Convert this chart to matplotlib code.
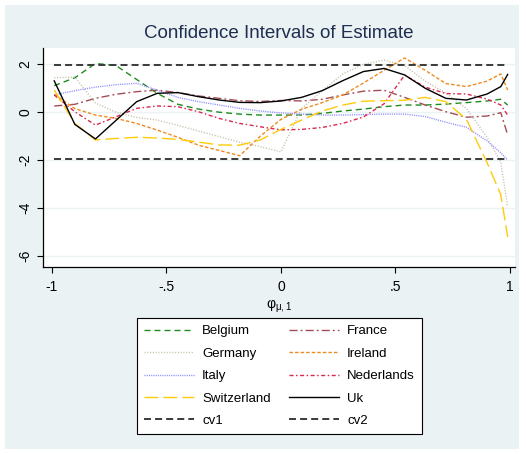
import matplotlib
matplotlib.use("Agg")
import matplotlib.pyplot as plt
from matplotlib.patches import Rectangle

plt.rcParams['font.family'] = ['Liberation Sans', 'DejaVu Sans']

# grid of phi values
phi = [-0.99, -0.90, -0.81, -0.72, -0.63, -0.54, -0.45, -0.36, -0.27, -0.18, -0.09, 0.00,
       0.09, 0.18, 0.27, 0.36, 0.45, 0.54, 0.63, 0.72, 0.81, 0.90, 0.96, 0.99]

belgium = [1.11, 1.44, 2.04, 1.95, 1.37, 0.79, 0.33, 0.13, 0.00, -0.08, -0.12, -0.12,
           -0.12, -0.05, 0.05, 0.13, 0.23, 0.30, 0.30, 0.34, 0.40, 0.47, 0.54, 0.30]
france = [0.26, 0.33, 0.58, 0.75, 0.86, 0.92, 0.82, 0.68, 0.58, 0.48, 0.45, 0.49,
          0.47, 0.54, 0.72, 0.88, 0.92, 0.62, 0.30, 0.02, -0.21, -0.16, -0.02, -0.95]
germany = [1.44, 1.47, 0.38, 0.00, -0.22, -0.33, -0.55, -0.79, -1.02, -1.26, -1.44, -1.66,
           0.15, 0.90, 1.60, 2.00, 2.18, 1.95, 1.30, 0.80, 0.15, -1.05, -2.10, -3.95]
ireland = [0.75, 0.15, -0.12, -0.26, -0.47, -0.75, -1.05, -1.38, -1.60, -1.82, -1.00, -0.30,
           0.12, 0.40, 0.72, 1.22, 1.75, 2.27, 1.75, 1.20, 1.07, 1.30, 1.60, 0.93]
italy = [0.72, 0.90, 1.05, 1.15, 1.21, 0.92, 0.62, 0.44, 0.30, 0.16, 0.05, -0.03,
         -0.08, -0.12, -0.12, -0.10, -0.08, -0.08, -0.18, -0.42, -0.63, -1.20, -1.70, -2.00]
nederlands = [0.72, 0.02, -0.54, -0.19, 0.16, 0.26, 0.23, 0.02, -0.26, -0.47, -0.61, -0.74,
              -0.72, -0.64, -0.47, -0.20, 0.35, 1.55, 1.05, 0.78, 0.76, 0.55, 0.30, -0.12]
switzerland = [0.93, -0.47, -1.16, -1.10, -1.05, -1.08, -1.14, -1.25, -1.37, -1.38, -1.16, -0.72,
               -0.33, 0.05, 0.30, 0.46, 0.48, 0.50, 0.62, 0.44, -0.30, -2.11, -3.45, -5.22]
uk = [1.31, -0.51, -1.12, -0.34, 0.44, 0.79, 0.82, 0.65, 0.51, 0.41, 0.40, 0.47,
      0.62, 0.90, 1.32, 1.70, 1.83, 1.56, 1.00, 0.58, 0.51, 0.76, 1.07, 1.58]
cv1 = 1.96
cv2 = -1.96

xticks = [-1, -0.5, 0, 0.5, 1]
xtick_labels = ['-1', '-.5', '0', '.5', '1']
yticks = [-6, -4, -2, 0, 2]

W, H = 526, 454
fig = plt.figure(figsize=(W / 100, H / 100), dpi=100, facecolor='white')
fig.patches.append(Rectangle((5 / W, 5 / H), 514 / W, 444 / H, transform=fig.transFigure,
                             facecolor='#eaf2f3', edgecolor='none', zorder=-10))

ax = fig.add_axes([43 / W, 1 - 267 / H, (515 - 43) / W, (267 - 48) / H])
ax.set_facecolor('white')

ax.plot(phi, belgium, color='#1e8c1e', lw=1.0, ls=(0, (4.3, 2.9)), label='Belgium')
ax.plot(phi, france, color='#a24d55', lw=1.0, ls=(0, (5.8, 2.2, 1.4, 2.2)), label='France')
ax.plot(phi, germany, color='#c3c0a8', lw=1.0, ls=(0, (0.8, 1.2)), label='Germany')
ax.plot(phi, ireland, color='#ef8a1f', lw=1.0, ls=(0, (2.5, 1.5)), label='Ireland')
ax.plot(phi, italy, color='#8f8fff', lw=1.0, ls=(0, (0.8, 0.8)), label='Italy')
ax.plot(phi, nederlands, color='#d9284f', lw=1.0, ls=(0, (2.9, 1.8, 1.1, 1.8)), label='Nederlands')
ax.plot(phi, switzerland, color='#fecb0b', lw=1.0, ls=(0, (10, 3.6)), label='Switzerland')
ax.plot(phi, uk, color='black', lw=1.0, label='Uk')
ax.plot(phi, [cv1] * len(phi), color='#3a3a3a', lw=1.4, ls=(0, (3.6, 2.1)), label='cv1')
ax.plot(phi, [cv2] * len(phi), color='#3a3a3a', lw=1.4, ls=(0, (3.6, 2.1)), label='cv2')

ax.set_xlim(-1.039, 1.022)
ax.set_ylim(-6.477, 2.686)
ax.set_xticks(xticks)
ax.set_xticklabels(xtick_labels)
ax.set_yticks(yticks)
ax.set_yticklabels([str(t) for t in yticks], rotation=90, va='center')
ax.tick_params(axis='both', labelsize=10, length=4.3, width=0.8, color='black')
ax.tick_params(axis='x', pad=5)
ax.tick_params(axis='y', pad=3.5)
ax.yaxis.grid(True, color='#eaf2f3', lw=1.0)
ax.set_axisbelow(True)
for s in ['top', 'right']:
    ax.spines[s].set_visible(False)
for s in ['left', 'bottom']:
    ax.spines[s].set_linewidth(0.9)

ax.set_xlabel(r'φ$_{\mathregular{\mu,1}}$', fontsize=10, labelpad=3)
fig.text(279 / W, 1 - 33 / H, 'Confidence Intervals of Estimate', ha='center', va='center',
         fontsize=13.5, color='#1f2d50')

# legend filled row by row like the original
h, l = ax.get_legend_handles_labels()
order = [0, 2, 4, 6, 8, 1, 3, 5, 7, 9]
leg = fig.legend([h[i] for i in order], [l[i] for i in order], ncol=2,
                 loc='upper center', bbox_to_anchor=(279.5 / W, 1 - 318 / H),
                 bbox_transform=fig.transFigure, fontsize=9.5, frameon=True,
                 fancybox=False, framealpha=1, edgecolor='black', borderpad=0.55,
                 handlelength=3.8, handletextpad=0.6, columnspacing=1.4, labelspacing=0.77,
                 borderaxespad=0)
leg.get_frame().set_linewidth(0.8)

fig.savefig('out.png', dpi=100)
